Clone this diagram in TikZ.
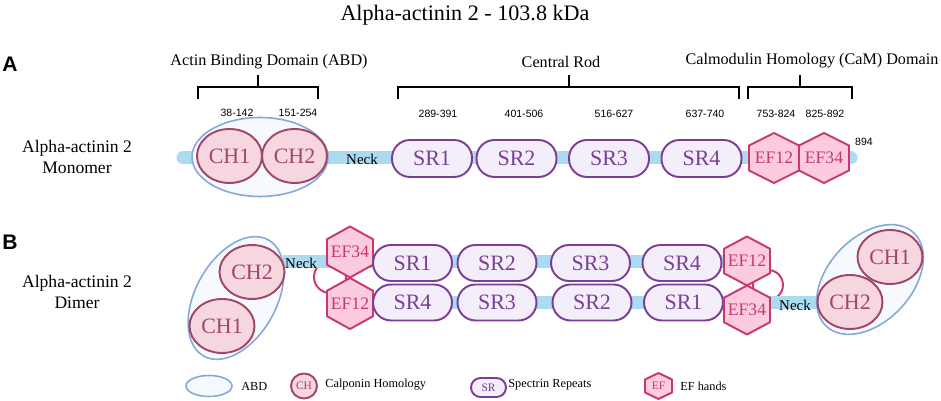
\documentclass[tikz,border=0pt]{standalone}
\usepackage{fontspec}
\setmainfont{Liberation Serif}
\newfontfamily\numfont{Liberation Sans}
\usetikzlibrary{shapes.geometric}

\definecolor{barblue}{RGB}{170,219,240}
\definecolor{abdline}{RGB}{133,168,214}
\definecolor{abdfill}{RGB}{246,249,253}
\definecolor{chline}{RGB}{160,70,104}
\definecolor{chfill}{RGB}{246,214,223}
\definecolor{srline}{RGB}{122,62,150}
\definecolor{srfill}{RGB}{244,238,250}
\definecolor{efline}{RGB}{200,55,112}
\definecolor{effill}{RGB}{252,203,222}

\tikzset{
 bar/.style={line width=7.4pt, barblue},
 abd/.style={ellipse, draw=abdline, fill=abdfill, line width=0.9pt, inner sep=0pt},
 chnode/.style={ellipse, draw=chline, fill=chfill, line width=1.1pt, inner sep=0pt, minimum width=1.3cm, minimum height=1.08cm, text=chline, font=\fontsize{12.5}{14}\selectfont},
 srnode/.style={rectangle, rounded corners=0.36cm, draw=srline, fill=srfill, line width=1.1pt, inner sep=0pt, minimum width=1.6cm, minimum height=0.74cm, text=srline, font=\fontsize{12.5}{14}\selectfont},
 efshape/.style={draw=efline, fill=effill, line width=1.1pt, line join=round},
 eflabel/.style={text=efline, inner sep=0pt, font=\fontsize{10}{12}\selectfont},
 num/.style={font=\numfont\fontsize{6}{7}\selectfont},
 head/.style={font=\fontsize{9.2}{11}\selectfont},
 rowname/.style={align=center, font=\fontsize{10}{12}\selectfont},
 brack/.style={line width=0.6pt},
 lgtext/.style={anchor=west, inner sep=0pt, font=\fontsize{7}{8}\selectfont},
 neck/.style={inner sep=0pt, font=\fontsize{8.5}{10}\selectfont},
 panel/.style={font=\numfont\bfseries\fontsize{12}{14}\selectfont},
}

% hexagon: name, x, y, half width, half height, text
\newcommand{\efhex}[6]{%
 \filldraw[efshape] (#2,#3-#5) -- (#2+#4,#3-#5/2) -- (#2+#4,#3+#5/2) -- (#2,#3+#5) -- (#2-#4,#3+#5/2) -- (#2-#4,#3-#5/2) -- cycle;
 \node[eflabel] (#1) at (#2,#3) {#6};}

\begin{document}
\begin{tikzpicture}[x=0.02cm, y=-0.02cm]
 \useasboundingbox (0,0) rectangle (941,401);

 \node[font=\fontsize{12.6}{15}\selectfont] (title) at (465,15) {Alpha-actinin 2 - 103.8 kDa}; %title
 \node[panel] (pA) at (10,64) {A};
 \node[panel] (pB) at (10,242) {B};

 %% A: monomer
 \node[rowname] (mono) at (77,157) {Alpha-actinin 2\\Monomer};
 \node[head] (habd) at (269,62) {Actin Binding Domain (ABD)};
 \node[head] (hrod) at (561,62) {Central Rod};
 \node[head] (hcam) at (812,61) {Calmodulin Homology (CaM) Domain};

 \coordinate (b1l) at (198,99); \coordinate (b1m) at (258,87); \coordinate (b1t) at (258,75); \coordinate (b1r) at (318,99); %ABD bracket
 \coordinate (b2l) at (398,99); \coordinate (b2m) at (569,87); \coordinate (b2t) at (569,75); \coordinate (b2r) at (739,99); %rod bracket
 \coordinate (b3l) at (748,99); \coordinate (b3m) at (800,87); \coordinate (b3t) at (800,75); \coordinate (b3r) at (852,99); %CaM bracket
 \draw[brack] (b1l) |- (b1m) -| (b1r); \draw[brack] (b1m) -- (b1t);
 \draw[brack] (b2l) |- (b2m) -| (b2r); \draw[brack] (b2m) -- (b2t);
 \draw[brack] (b3l) |- (b3m) -| (b3r); \draw[brack] (b3m) -- (b3t);

 \node[num] (n1) at (237,113) {38-142};
 \node[num] (n2) at (298,113) {151-254};
 \node[num] (n3) at (438,114) {289-391};
 \node[num] (n4) at (524,114) {401-506};
 \node[num] (n5) at (614,114) {516-627};
 \node[num] (n6) at (705,114) {637-740};
 \node[num] (n7) at (776,114) {753-824};
 \node[num] (n8) at (825,114) {825-892};
 \node[num] (n9) at (864,142) {894};

 \coordinate (mL) at (183,158); \coordinate (mR) at (851,158); %backbone
 \draw[bar, line cap=round] (mL) -- (mR);
 \node[abd, minimum width=2.72cm, minimum height=1.58cm] (abdm) at (260,157) {};
 \node[chnode] (ch1m) at (229.5,156) {CH1};
 \node[chnode] (ch2m) at (294.5,156) {CH2};
 \node[neck] (neckm) at (362,159) {Neck};
 \node[srnode] (sr1m) at (432,158.5) {SR1};
 \node[srnode] (sr2m) at (516.5,158.5) {SR2};
 \node[srnode] (sr3m) at (609,158.5) {SR3};
 \node[srnode] (sr4m) at (701.5,158.5) {SR4};
 \efhex{ef12m}{774}{158}{25}{25}{EF12}
 \efhex{ef34m}{824}{158}{25}{25}{EF34}

 %% B: dimer
 \node[rowname] (dim) at (77,292) {Alpha-actinin 2\\Dimer};
 \draw[efshape, fill=none] (330,277) circle (16); %left loop
 \draw[efshape, fill=none] (768,285) circle (15); %right loop
 \coordinate (tL) at (283,262); \coordinate (tR) at (747,262); %top strand
 \coordinate (bL) at (350,303); \coordinate (bR) at (818,303); %bottom strand
 \draw[bar] (tL) -- (tR);
 \draw[bar] (bL) -- (bR);

 \node[abd, minimum width=2.66cm, minimum height=1.62cm, rotate=61] (abdl) at (236,298) {};
 \node[chnode] (ch2l) at (252,272) {CH2};
 \node[chnode] (ch1l) at (222,326) {CH1};
 \node[neck] (neckl) at (301,263) {Neck};
 \efhex{ef34l}{350}{252}{23}{25.5}{EF34}
 \efhex{ef12l}{350}{303.5}{23}{25.5}{EF12}

 \node[srnode, minimum width=1.58cm, minimum height=0.72cm] (sr1t) at (412.5,263) {SR1};
 \node[srnode, minimum width=1.58cm, minimum height=0.72cm] (sr2t) at (497,263) {SR2};
 \node[srnode, minimum width=1.58cm, minimum height=0.72cm] (sr3t) at (590.5,263) {SR3};
 \node[srnode, minimum width=1.58cm, minimum height=0.72cm] (sr4t) at (682,263) {SR4};
 \node[srnode, minimum width=1.58cm, minimum height=0.72cm] (sr4b) at (412.5,302.5) {SR4};
 \node[srnode, minimum width=1.58cm, minimum height=0.72cm] (sr3b) at (497,302.5) {SR3};
 \node[srnode, minimum width=1.58cm, minimum height=0.72cm] (sr2b) at (592,302.5) {SR2};
 \node[srnode, minimum width=1.58cm, minimum height=0.72cm] (sr1b) at (683.5,302.5) {SR1};

 \efhex{ef12r}{747}{261}{23}{24.5}{EF12}
 \efhex{ef34r}{747}{310}{23}{24.5}{EF34}
 \node[neck] (neckr) at (795,305) {Neck};
 \node[abd, minimum width=2.56cm, minimum height=1.68cm, rotate=47] (abdr) at (870,279.5) {};
 \node[chnode] (ch1r) at (890,257) {CH1};
 \node[chnode] (ch2r) at (850,302) {CH2};

 %% legend
 \node[abd, minimum width=0.92cm, minimum height=0.42cm] (lgabd) at (209,386) {};
 \node[lgtext] (lgabdt) at (241,386) {ABD};
 \node[chnode, minimum width=0.52cm, minimum height=0.5cm, font=\fontsize{6.5}{7}\selectfont] (lgch) at (304,386) {CH};
 \node[lgtext] (lgcht) at (325,385) {Calponin Homology};
 \node[srnode, minimum width=0.7cm, minimum height=0.38cm, rounded corners=0.19cm, font=\fontsize{6.5}{7}\selectfont] (lgsr) at (488.5,387.5) {SR};
 \node[lgtext] (lgsrt) at (508,385) {Spectrin Repeats};
 \efhex{lgef}{658.5}{386}{13.5}{13}{\fontsize{6.5}{7}\selectfont EF}
 \node[lgtext] (lgeft) at (680,386) {EF hands};
\end{tikzpicture}
\end{document}
